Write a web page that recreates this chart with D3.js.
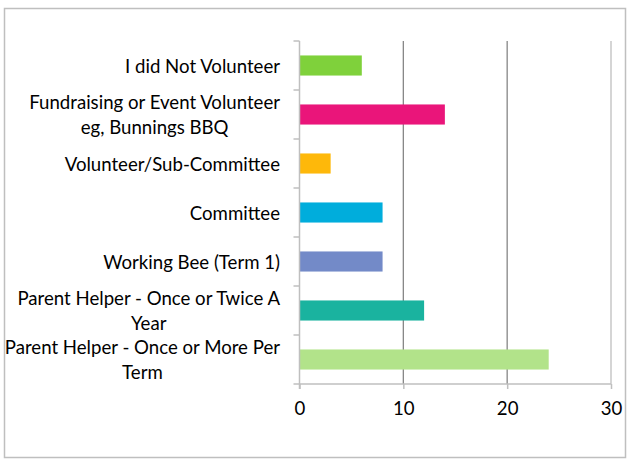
<!DOCTYPE html>
<html>
<head>
<meta charset="utf-8">
<script src="https://cdn.jsdelivr.net/npm/d3@7"></script>
<style>
  html, body { margin: 0; padding: 0; background: #fff; }
  svg { display: block; }
</style>
</head>
<body>
<div id="chart"></div>
<script>
(function () {
    "use strict";

    // categories, top to bottom; each label split into its wrapped lines
    const categories = [
        ["I did Not Volunteer"],
        ["Fundraising or Event Volunteer", "eg, Bunnings BBQ"],
        ["Volunteer/Sub-Committee"],
        ["Committee"],
        ["Working Bee (Term 1)"],
        ["Parent Helper - Once or Twice A", "Year"],
        ["Parent Helper - Once or More Per", "Term"]
    ];
    const values = [6, 14, 3, 8, 8, 12, 24];
    const barColors = ["#7FD13B", "#EA157A", "#FEB80A", "#00ADDC", "#738AC8", "#1AB39F", "#B2E38A"];
    const tickValues = [0, 10, 20, 30];

    const WIDTH = 629;
    const HEIGHT = 459;
    const FONT = "Lato, 'Liberation Sans', sans-serif";
    const AXIS_COLOR = "#BFBFBF";
    const GRID_COLOR = "#868686";

    const svg = d3.select("#chart").append("svg")
        .attr("width", WIDTH)
        .attr("height", HEIGHT);

    /* outer chart border */
    svg.append("rect")
        .attr("x", 4.5).attr("y", 8.5)
        .attr("width", 621).attr("height", 449)
        .attr("fill", "#fff")
        .attr("stroke", "#BFBFBF")
        .attr("stroke-width", 1.5);

    /* pick font size so the widest label line matches the reference (~251px) */
    const probe = svg.append("text").attr("font-family", FONT).attr("font-size", 100)
        .text("Fundraising or Event Volunteer");
    const fontSize = 100 * 251 / probe.node().getComputedTextLength();
    probe.remove();

    const x = d3.scaleLinear().domain([0, 30]).range([299.5, 611]);
    const y = d3.scaleBand()
        .domain(d3.range(categories.length))
        .range([41, 384])
        .paddingInner(0.59)
        .paddingOuter(0.295);
    const band = d3.scaleBand().domain(d3.range(categories.length)).range([41, 384]);

    /* vertical gridlines */
    svg.append("g")
        .selectAll("line")
        .data(tickValues.slice(1))
        .enter().append("line")
        .attr("x1", function (d) { return x(d); })
        .attr("x2", function (d) { return x(d); })
        .attr("y1", 41).attr("y2", 384)
        .attr("stroke", function (d, i) { return i === tickValues.length - 2 ? AXIS_COLOR : GRID_COLOR; })
        .attr("stroke-width", 1.3);

    /* bars */
    svg.append("g")
        .selectAll("rect")
        .data(values)
        .enter().append("rect")
        .attr("x", x(0))
        .attr("y", function (d, i) { return y(i); })
        .attr("width", function (d) { return x(d) - x(0); })
        .attr("height", y.bandwidth())
        .attr("fill", function (d, i) { return barColors[i]; });

    /* x axis */
    const xAxis = svg.append("g")
        .attr("transform", "translate(0,384)")
        .call(d3.axisBottom(x).tickValues(tickValues).tickSize(5).tickPadding(13));
    xAxis.select(".domain").attr("stroke", AXIS_COLOR).attr("stroke-width", 1.5)
        .attr("d", "M" + (x(0) - 6) + ",0H" + x(30));
    xAxis.selectAll(".tick line").attr("stroke", AXIS_COLOR).attr("stroke-width", 1.5);
    xAxis.selectAll(".tick text")
        .attr("font-family", FONT)
        .attr("font-size", fontSize)
        .attr("fill", "#000");

    /* y axis line and ticks at band edges */
    svg.append("line")
        .attr("x1", x(0)).attr("x2", x(0))
        .attr("y1", 41).attr("y2", 389)
        .attr("stroke", AXIS_COLOR).attr("stroke-width", 1.5);
    svg.append("g")
        .selectAll("line")
        .data(d3.range(categories.length))
        .enter().append("line")
        .attr("x1", x(0) - 6).attr("x2", x(0))
        .attr("y1", function (d) { return band(d); })
        .attr("y2", function (d) { return band(d); })
        .attr("stroke", AXIS_COLOR).attr("stroke-width", 1.5);

    /* category labels, centred in their band, block right aligned at x=280 */
    const lineHeight = 24.4;
    const labels = svg.append("g")
        .selectAll("text")
        .data(categories)
        .enter().append("text")
        .attr("font-family", FONT)
        .attr("font-size", fontSize)
        .attr("fill", "#000")
        .attr("text-anchor", "middle")
        .attr("dominant-baseline", "central");

    labels.each(function (lines, i) {
        const t = d3.select(this);
        const cy = band(i) + band.bandwidth() / 2;
        const top = cy - (lines.length - 1) * lineHeight / 2;
        const widths = lines.map(function (l) {
            const s = t.append("tspan").text(l);
            const w = s.node().getComputedTextLength();
            s.remove();
            return w;
        });
        const cx = 280 - d3.max(widths) / 2;
        lines.forEach(function (l, j) {
            t.append("tspan")
                .attr("x", cx)
                .attr("y", top + j * lineHeight)
                .text(l);
        });
    });
})();
</script>
</body>
</html>
